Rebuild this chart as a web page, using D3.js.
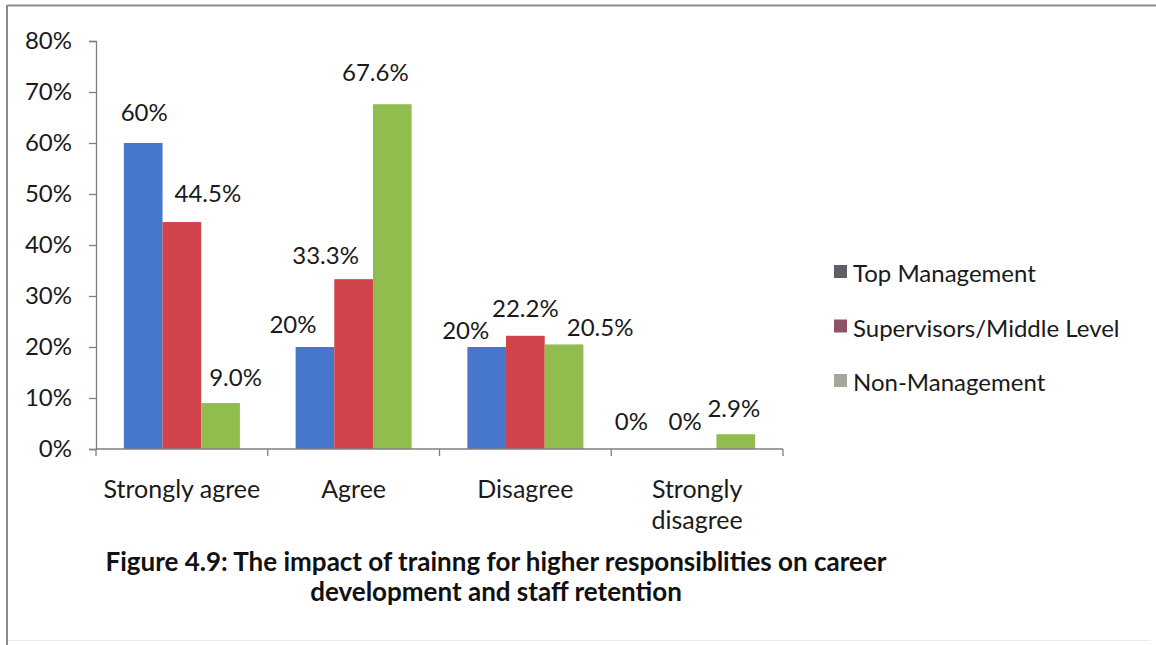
<!DOCTYPE html>
<html>
<head>
<meta charset="utf-8">
<script src="https://cdn.jsdelivr.net/npm/d3@7"></script>
<style>
  html, body { margin: 0; padding: 0; background: #fff; }
  svg { display: block; font-family: Lato, "Open Sans", sans-serif; }
</style>
</head>
<body>
<svg id="chart" width="1156" height="645"></svg>
<script>
// Survey responses by staff level
const categories = ["Strongly agree", "Agree", "Disagree", "Strongly disagree"];
const seriesNames = ["Top Management", "Supervisors/Middle Level", "Non-Management"];
const topManagement = [60, 20, 20, 0];
const supervisors = [44.5, 33.3, 22.2, 0];
const nonManagement = [9.0, 67.6, 20.5, 2.9];
const valueLabels = [
  ["60%", "20%", "20%", "0%"],
  ["44.5%", "33.3%", "22.2%", "0%"],
  ["9.0%", "67.6%", "20.5%", "2.9%"]
];
const yTicks = [0, 10, 20, 30, 40, 50, 60, 70, 80];
const titleLines = [
  "Figure 4.9: The impact of trainng for higher responsiblities on career",
  "development and staff retention"
];

// Styling / layout
const barColors = ["#4677cc", "#d1434a", "#90bd4e"];
const legendSwatch = ["#5f5f66", "#8e5466", "#a6a89c"];
// hand-placed nudges for the value labels [series][category] -> [dx, dy above bar top]
const labelNudge = [
  [[1, -22], [-22, -14], [-21, -8], [-27, -19]],
  [[26, -20], [-28, -15], [0, -19], [-12, -19]],
  [[15, -17], [-17, -23], [36, -8], [-2, -17]]
];

const series = [topManagement, supervisors, nonManagement];
const svg = d3.select("#chart");

// outer frame
svg.append("line").attr("x1", 7).attr("x2", 1156).attr("y1", 5.5).attr("y2", 5.5)
  .attr("stroke", "#8a8a8a").attr("stroke-width", 2);
svg.append("line").attr("x1", 7).attr("x2", 7).attr("y1", 5).attr("y2", 645)
  .attr("stroke", "#8a8a8a").attr("stroke-width", 2);
svg.append("line").attr("x1", 8).attr("x2", 1150).attr("y1", 640.5).attr("y2", 640.5)
  .attr("stroke", "#ececec").attr("stroke-width", 1);

const x0 = d3.scaleBand().domain(categories).range([96, 783]).paddingInner(0).paddingOuter(0);
const x1 = d3.scaleBand().domain(d3.range(3)).range([0, x0.bandwidth()]).paddingInner(0).paddingOuter(0.72);
const y = d3.scaleLinear().domain([0, 80]).range([449, 41]);

// bars
const groups = svg.append("g").selectAll("g")
  .data(categories).join("g")
  .attr("transform", d => `translate(${x0(d)},0)`);

groups.selectAll("rect")
  .data((c, ci) => series.map((s, si) => ({ si, ci, v: s[ci] })))
  .join("rect")
  .attr("x", d => x1(d.si))
  .attr("width", x1.bandwidth())
  .attr("y", d => y(d.v))
  .attr("height", d => y(0) - y(d.v))
  .attr("fill", d => barColors[d.si]);

// y axis
const yAxis = d3.axisLeft(y).tickValues(yTicks).tickFormat(d => d + "%").tickSize(7).tickPadding(17);
const ya = svg.append("g").attr("transform", "translate(96,0)").call(yAxis);
ya.select(".domain").attr("stroke", "#7f7f7f").attr("stroke-width", 1.3);
ya.selectAll(".tick line").attr("stroke", "#7f7f7f").attr("stroke-width", 1.3);
ya.selectAll(".tick text").attr("font-size", 24).attr("fill", "#1a1a1a")
  .attr("font-family", "Lato, sans-serif");

// x axis: tick marks on category boundaries
const xa = svg.append("g").attr("transform", `translate(0,${y(0)})`);
xa.append("line").attr("x1", 96).attr("x2", 783).attr("stroke", "#7f7f7f").attr("stroke-width", 1.3);
const bounds = categories.map(c => x0(c)).concat([x0(categories[3]) + x0.bandwidth()]);
xa.selectAll("line.tk").data(bounds).join("line").attr("class", "tk")
  .attr("x1", d => d).attr("x2", d => d).attr("y1", 0).attr("y2", 7)
  .attr("stroke", "#7f7f7f").attr("stroke-width", 1.3);

// category labels (wrapped)
const catLines = { "Strongly disagree": ["Strongly", "disagree"] };
svg.append("g").selectAll("text").data(categories).join("text")
  .attr("x", d => x0(d) + x0.bandwidth() / 2)
  .attr("y", 498)
  .attr("text-anchor", "middle")
  .attr("font-size", 25).attr("fill", "#1a1a1a")
  .each(function (d) {
    const lines = catLines[d] || [d];
    d3.select(this).selectAll("tspan").data(lines).join("tspan")
      .attr("x", x0(d) + x0.bandwidth() / 2)
      .attr("dy", (l, i) => i === 0 ? 0 : 31)
      .text(l => l);
  });

// value labels
const labelData = [];
series.forEach((s, si) => s.forEach((v, ci) => labelData.push({ si, ci, v })));
svg.append("g").selectAll("text").data(labelData).join("text")
  .attr("x", d => x0(categories[d.ci]) + x1(d.si) + x1.bandwidth() / 2 + labelNudge[d.si][d.ci][0])
  .attr("y", d => y(d.v) + labelNudge[d.si][d.ci][1])
  .attr("text-anchor", "middle")
  .attr("font-size", 24).attr("fill", "#1a1a1a")
  .text(d => valueLabels[d.si][d.ci]);

// legend
const legend = svg.append("g").selectAll("g").data(seriesNames).join("g")
  .attr("transform", (d, i) => `translate(836,${273 + i * 54.5})`);
legend.append("rect").attr("x", -2).attr("y", -8).attr("width", 13).attr("height", 13)
  .attr("fill", (d, i) => legendSwatch[i]);
legend.append("text").attr("x", 17).attr("y", 9)
  .attr("font-size", 24).attr("fill", "#1a1a1a").text(d => d);

// caption
svg.append("g").selectAll("text").data(titleLines).join("text")
  .attr("x", 496).attr("y", (d, i) => 571 + i * 30)
  .attr("text-anchor", "middle")
  .attr("font-size", 26).attr("font-weight", "bold").attr("fill", "#111")
  .text(d => d);
</script>
</body>
</html>
